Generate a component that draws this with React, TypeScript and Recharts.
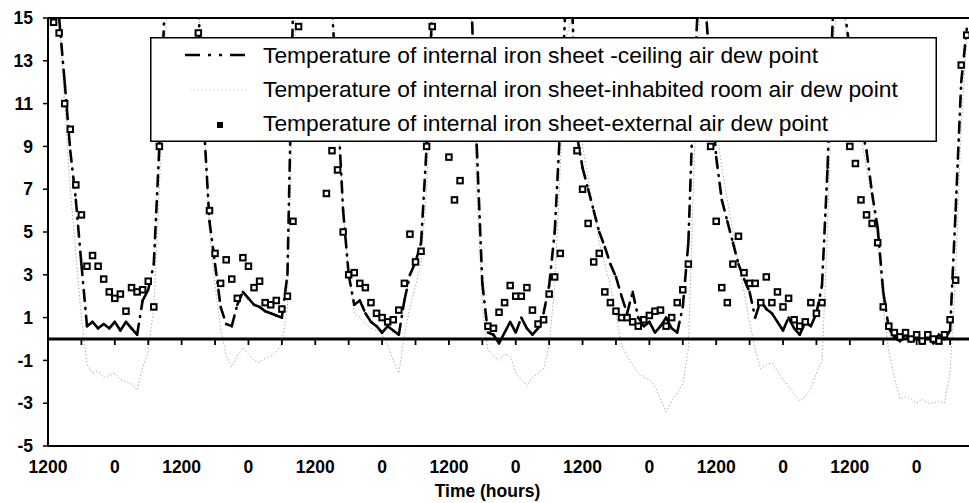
import React from "react";
import { ComposedChart, Line, Scatter, XAxis, YAxis, ReferenceLine } from "recharts";

// hourly readings, hour 0 = 12:00 of day 1 (values above 15 run off the top of the plot)
const ceilingDew = [
  // day 1
  18, 16, 15, 12, 8.8, 6.5, 3.5, 0.6, 0.8, 0.5, 0.7, 0.5, 0.8, 0.4, 0.8, 0.5, 0.2, 1.8, 2.3, 3.5, 9, 16, 18, 18,
  // day 2
  18, 18, 18, 15.5, 10, 5.5, 3.5, 1.5, 0.7, 0.6, 1.6, 2.2, 1.9, 1.6, 1.5, 1.3, 1.2, 1.1, 1.0, 3, 15.5, 18, 18, 18,
  // day 3
  18, 18, 17, 15.5, 11, 6, 3, 1.6, 1.8, 1.2, 0.8, 0.6, 0.3, 0.6, 0.4, 0.2, 1.8, 3, 3.6, 4.5, 9, 15.5, 18, 18,
  // day 4
  18, 18, 18, 18, 16, 9, 2.6, 0.3, 0.2, -0.2, 0.3, 0.8, 0.3, 1.0, 0.5, 0.2, 0.5, 1.2, 2.5, 5, 10, 16, 16.5, 9.5,
  // day 5
  8, 7, 6, 5, 4.3, 3.5, 2.9, 2, 1.2, 2.2, 1.0, 0.6, 0.8, 0.3, 0.6, 1.0, 0.5, 0.3, 1.5, 4.5, 12, 17, 16, 12,
  // day 6
  8.5, 6.5, 5.5, 4.5, 3.5, 2.8, 2.2, 1.0, 1.8, 1.4, 1.2, 0.8, 0.4, 1.0, 0.5, 0.2, 0.8, 0.6, 1.2, 2.5, 8, 15.5, 17, 15.5,
  // day 7
  13.5, 11.5, 10, 8.8, 6.8, 5.2, 2.2, 0.5, 0.1, -0.1, 0.2, -0.1, 0.1, -0.2, 0.1, -0.2, 0.2, 0, 0.4, 6, 12, 14.5,
];

const roomDew = [
  18, 17, 15, 11, 7, 4, 1, -1.2, -1.6, -1.5, -1.8, -1.7, -1.6, -1.9, -2.0, -2.1, -2.4, -1.3, -0.6, 1.5, 7, 14, 18, 18,
  18, 18, 18, 16, 10, 5, 2.5, 0.5, -0.8, -1.3, -0.8, -0.4, -0.7, -1.0, -1.1, -0.9, -0.8, -0.6, -0.2, 1.5, 12, 18, 18, 18,
  18, 18, 18, 16, 11, 6, 3, 1.2, 1.0, 0.7, 0.5, 0.4, 0.2, -0.3, -1.0, -1.6, 0.2, 1.5, 2.5, 3.5, 7, 14, 18, 18,
  18, 18, 18, 18, 15, 7, 1.5, -0.5, -0.8, -1.0, -0.7, -0.8, -1.6, -1.9, -2.2, -1.8, -1.6, -1.4, -0.3, 2.5, 8, 14, 15, 12,
  9, 7.5, 6, 4.5, 3.5, 2.5, 1.2, -0.3, -0.8, -1.2, -1.6, -1.8, -1.9, -2.2, -2.8, -3.4, -2.9, -2.5, -2.1, -0.5, 8, 15, 16, 13,
  10, 8, 6.5, 5, 3.5, 2.2, 0.8, -0.5, -1.4, -1.2, -1.1, -1.5, -1.9, -2.2, -2.6, -2.9, -2.7, -2.3, -1.6, -1.0, 5, 14, 16, 15,
  13, 11, 9.5, 8, 6.5, 4.5, 1.5, -0.6, -1.8, -2.8, -2.7, -2.8, -3.0, -2.8, -3.0, -3.0, -2.9, -3.0, -1.6, 3, 10, 14,
];

const externalDew = [
  null, 14.8, 14.3, 11, 9.8, 7.2, 5.8, 3.4, 3.9, 3.4, 2.8, 2.2, 1.9, 2.1, 1.3, 2.4, 2.2, 2.3, 2.7, 1.5, 9, null, null, null,
  null, null, null, 14.3, 10, 6.0, 4.0, 2.6, 3.7, 2.8, 1.9, 3.8, 3.4, 2.4, 2.7, 1.7, 1.6, 1.8, 1.4, 2.0, 5.5, 14.6, null, null,
  null, null, 6.8, 8.8, 7.9, 5.0, 3.0, 3.1, 2.6, 2.4, 1.7, 1.2, 1.0, 0.8, 0.9, 1.35, 2.6, 4.9, 3.6, 4.1, 9.0, 14.6, null, null,
  8.5, 6.5, 7.4, null, null, null, null, 0.6, 0.5, 1.25, 1.7, 2.5, 2.0, 2.0, 2.4, 1.35, 0.7, 0.9, 2.1, 2.9, 4.0, null, null, 8.8,
  7.0, 5.4, 3.6, 4.0, 2.2, 1.7, 1.3, 1.0, 1.0, 0.8, 0.6, 0.9, 1.1, 1.3, 1.35, 0.6, 1.0, 1.7, 2.3, 3.5, null, null, null, 9.0,
  5.5, 2.4, 1.7, 3.5, 4.8, 3.1, 2.6, 2.6, 1.7, 2.9, 1.7, 2.2, 1.5, 1.9, 0.9, 0.6, 0.8, 1.7, 1.2, 1.7, null, null, null, null,
  9.0, 8.2, 6.5, 5.8, 5.4, 4.5, 1.5, 0.6, 0.3, 0.1, 0.3, 0.0, 0.2, -0.1, 0.2, 0.0, -0.1, 0.2, 0.9, 2.75, 12.8, 14.2,
];

const labelHours = [0, 12, 24, 36, 48, 60, 72, 84, 96, 108, 120, 132, 144, 156];
const minorHours = [6, 12, 18, 24, 30, 36, 42, 48, 54, 60, 66, 72, 78, 84, 90, 96, 102, 108, 114, 120, 126, 132, 138, 144, 150, 156, 162];
const yTicks = [-5, -3, -1, 1, 3, 5, 7, 9, 11, 13, 15];

const legendItems = [
  "Temperature of internal iron sheet -ceiling air dew point",
  "Temperature of internal iron sheet-inhabited room air dew point",
  "Temperature of internal iron sheet-external air dew point",
];

const data = ceilingDew.map((c, i) => ({
  h: i,
  ceiling: c,
  room: roomDew[i],
  external: externalDew[i],
}));

const FONT = "'Liberation Sans', Arial, sans-serif";

// each segment restarts the dash pattern, so the short trough segments read as solid
function dashDotSegment(props: any) {
  const { index, points, cx, cy } = props;
  const next = points ? points[index + 1] : null;
  if (!next || next.y == null || cy == null) return <g key={`seg-${index}`} />;
  return (
    <line
      key={`seg-${index}`}
      x1={cx}
      y1={cy}
      x2={next.x}
      y2={next.y}
      stroke="#000"
      strokeWidth={2.6}
      strokeLinecap="round"
      strokeDasharray="11 7 1 7"
    />
  );
}

function squareMark(props: any) {
  const { cx, cy, payload } = props;
  if (payload?.external == null || cx == null || cy == null || isNaN(cy)) return <g />;
  return <rect x={cx - 2.75} y={cy - 2.75} width={5.5} height={5.5} fill="#fff" stroke="#000" strokeWidth={2} />;
}

function LegendBox() {
  const rows = [26, 60, 94];
  return (
    <svg width={788} height={106} style={{ position: "absolute", left: 150, top: 37 }}>
      <rect x={0.75} y={0.75} width={785.5} height={103.5} fill="#fff" stroke="#000" strokeWidth={1.5} />
      <line x1={35} x2={97} y1={18} y2={18} stroke="#000" strokeWidth={2.5} strokeDasharray="15 8 3 8 3 8" />
      <line x1={40} x2={97} y1={53} y2={53} stroke="#c8c8c8" strokeWidth={1} strokeDasharray="1 3" />
      <rect x={67} y={85} width={6} height={6} fill="#000" />
      {legendItems.map((t, i) => (
        <text key={t} x={113} y={rows[i]} fontFamily={FONT} fontSize={22.8} fill="#000">
          {t}
        </text>
      ))}
    </svg>
  );
}

export default function App() {
  const tickStyle = { fill: "#000", fontSize: 17.5, fontWeight: "bold", fontFamily: FONT };
  return (
    <div style={{ position: "absolute", left: 0, top: 0, width: 969, height: 503, background: "#fff" }}>
      <ComposedChart width={969} height={503} data={data} margin={{ top: 18, right: 0, bottom: 0, left: 0 }}>
        <XAxis
          type="number"
          dataKey="h"
          domain={[0, 165.4]}
          ticks={labelHours}
          interval={0}
          allowDataOverflow
          tickFormatter={(v: number) => (v % 24 === 0 ? "1200" : "0")}
          tick={tickStyle}
          tickLine={false}
          tickSize={6}
          tickMargin={9}
          height={57}
          axisLine={{ stroke: "#000", strokeWidth: 2 }}
          label={{
            value: "Time (hours)",
            position: "insideBottom",
            offset: 6,
            dx: -21,
            style: { fill: "#000", fontSize: 17.5, fontWeight: "bold", fontFamily: FONT },
          }}
        />
        <YAxis
          type="number"
          domain={[-5, 15]}
          ticks={yTicks}
          interval={0}
          allowDataOverflow
          width={48}
          tick={tickStyle}
          tickSize={5}
          tickMargin={10}
          tickLine={{ stroke: "#000", strokeWidth: 1.5 }}
          axisLine={{ stroke: "#000", strokeWidth: 2 }}
        />
        <ReferenceLine y={15} stroke="#000" strokeWidth={2} />
        <Line
          dataKey="room"
          stroke="#b0b0b0"
          strokeWidth={1}
          strokeDasharray="1.5 2"
          dot={false}
          activeDot={false}
          isAnimationActive={false}
        />
        <Line dataKey="ceiling" stroke="none" dot={dashDotSegment} activeDot={false} isAnimationActive={false} />
        <Scatter dataKey="external" shape={squareMark} isAnimationActive={false} />
        <ReferenceLine y={0} stroke="#000" strokeWidth={3} />
        {/* 6-hourly ticks hanging below the zero line: vertical lines drawn from the plot bottom,
            dashed so only the short piece just under zero shows */}
        {minorHours.map((t) => (
          <ReferenceLine key={t} x={t} stroke="#000" strokeWidth={1.8} strokeDasharray="0 101 7 1000" />
        ))}
      </ComposedChart>
      <LegendBox />
    </div>
  );
}
